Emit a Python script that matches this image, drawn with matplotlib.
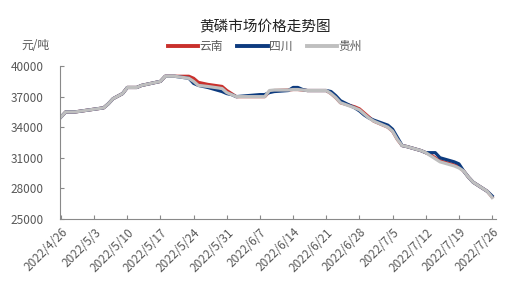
import pandas as pd
import matplotlib
matplotlib.use("Agg")
import matplotlib.pyplot as plt

plt.rcParams["font.family"] = ["Noto Sans CJK SC", "DejaVu Sans"]

dates = [
    "2022-04-26", "2022-04-27", "2022-04-29", "2022-05-05", "2022-05-06",
    "2022-05-07", "2022-05-09", "2022-05-10", "2022-05-12", "2022-05-13",
    "2022-05-16", "2022-05-17", "2022-05-18", "2022-05-20", "2022-05-23",
    "2022-05-24", "2022-05-25", "2022-05-27", "2022-05-30", "2022-05-31",
    "2022-06-01", "2022-06-02", "2022-06-07", "2022-06-08", "2022-06-09",
    "2022-06-10", "2022-06-13", "2022-06-14", "2022-06-15", "2022-06-16",
    "2022-06-17", "2022-06-20", "2022-06-21", "2022-06-22", "2022-06-23",
    "2022-06-24", "2022-06-27", "2022-06-28", "2022-06-29", "2022-06-30",
    "2022-07-01", "2022-07-04", "2022-07-05", "2022-07-06", "2022-07-07",
    "2022-07-08", "2022-07-11", "2022-07-12", "2022-07-13", "2022-07-14",
    "2022-07-15", "2022-07-18", "2022-07-19", "2022-07-20", "2022-07-21",
    "2022-07-22", "2022-07-25", "2022-07-26",
]

yunnan = [
    35000, 35500, 35500, 35900, 36300, 36800, 37300, 37900, 37900, 38100,
    38400, 38500, 39000, 39000, 39000, 38800, 38400, 38200, 38000, 37600,
    37300, 37000, 37000, 37000, 37500, 37600, 37650, 37700, 37700, 37650,
    37600, 37600, 37600, 37300, 36900, 36400, 36000, 35800, 35400, 35000,
    34600, 34000, 33600, 32800, 32200, 32100, 31700, 31500, 31300, 31000,
    30700, 30300, 30100, 29700, 29100, 28600, 27700, 27150,
]

sichuan = [
    35000, 35500, 35500, 35900, 36300, 36800, 37300, 37900, 37900, 38100,
    38400, 38500, 39000, 39000, 38800, 38300, 38100, 37900, 37500, 37300,
    37200, 37000, 37200, 37200, 37400, 37500, 37600, 37900, 37900, 37700,
    37600, 37600, 37600, 37500, 37100, 36600, 35900, 35600, 35200, 34900,
    34700, 34200, 33800, 33000, 32200, 32100, 31700, 31500, 31500, 31500,
    31000, 30600, 30400, 29700, 29100, 28600, 27700, 27250,
]

guizhou = [
    35000, 35500, 35500, 35900, 36300, 36800, 37300, 37900, 37900, 38100,
    38400, 38500, 39000, 39000, 38800, 38500, 38100, 38000, 37800, 37400,
    37200, 37000, 37000, 37000, 37600, 37650, 37650, 37700, 37700, 37650,
    37600, 37600, 37600, 37300, 36900, 36400, 35900, 35700, 35300, 34900,
    34600, 34000, 33600, 32800, 32200, 32100, 31700, 31500, 31200, 30900,
    30600, 30200, 30000, 29700, 29100, 28600, 27700, 27100,
]

series = [("云南", yunnan, "#C9302C"), ("四川", sichuan, "#0D3B7F"), ("贵州", guizhou, "#BFBFBF")]

tick_dates = pd.date_range("2022-04-26", "2022-07-26", freq="7D")
x = pd.to_datetime(dates)

fig = plt.figure(figsize=(5.22, 2.95), dpi=100)
ax = fig.add_axes([0.115, 0.258, 0.835, 0.518])

for name, vals, color in series:
    ax.plot(x, vals, color=color, lw=2.3, label=name, solid_joinstyle="round")

ax.set_ylim(25000, 40000)
ax.set_yticks([25000, 28000, 31000, 34000, 37000, 40000])
ax.set_xlim(pd.Timestamp("2022-04-26") - pd.Timedelta(days=0.2),
            pd.Timestamp("2022-07-26") + pd.Timedelta(days=0.8))
ax.set_xticks(tick_dates)
ax.set_xticklabels([f"{d.year}/{d.month}/{d.day}" for d in tick_dates],
                   rotation=45, ha="right", rotation_mode="anchor")

for s in ["top", "right"]:
    ax.spines[s].set_visible(False)
for s in ["left", "bottom"]:
    ax.spines[s].set_color("#898989")
    ax.spines[s].set_linewidth(0.8)
ax.tick_params(direction="in", length=3, color="#898989", labelcolor="#595959",
               labelsize=8.5)
ax.tick_params(axis="y", pad=12)
ax.tick_params(axis="x", pad=5)

fig.text(0.508, 0.91, "黄磷市场价格走势图", ha="center", va="center",
         fontsize=10.5, color="#222222")
fig.text(0.068, 0.845, "元/吨", ha="center", va="center", fontsize=8.5,
         color="#595959")

leg = ax.legend(loc="center", bbox_to_anchor=(0.47, 1.13), ncol=3, frameon=False,
                fontsize=8.5, handlelength=2.6, handletextpad=0.1, columnspacing=1.2,
                labelcolor="#595959")
for h in leg.get_lines():
    h.set_linewidth(2.8)

fig.savefig("out.png", dpi=100)
